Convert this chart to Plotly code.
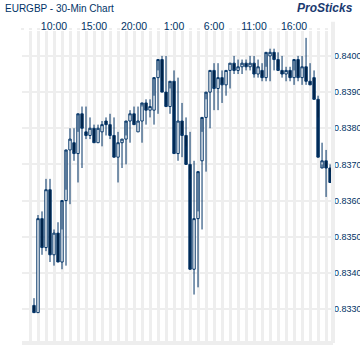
import pandas as pd
import plotly.graph_objects as go

# 30-minute bars, first bar 07:30
times = pd.date_range("2011-05-09 07:30", periods=75, freq="30min")

opens = [0.8331, 0.8329, 0.8355, 0.8347, 0.8363, 0.8345, 0.8351, 0.8343, 0.8360, 0.8374,
         0.8376, 0.8373, 0.8384, 0.8379, 0.8378, 0.8380, 0.8376, 0.8379, 0.8382, 0.8381,
         0.8378, 0.8372, 0.8376, 0.8377, 0.8382, 0.8384, 0.8379, 0.8382, 0.8387, 0.8385,
         0.8385, 0.8394, 0.8399, 0.8390, 0.8386, 0.8393, 0.8373, 0.8382, 0.8378, 0.8370,
         0.8341, 0.8355, 0.8371, 0.8383, 0.8390, 0.8396, 0.8391, 0.8394, 0.8392, 0.8396,
         0.8398, 0.8396, 0.8397, 0.8398, 0.8397, 0.8398, 0.8395, 0.8396, 0.8394, 0.8400,
         0.8401, 0.8399, 0.8396, 0.8395, 0.8396, 0.8394, 0.8399, 0.8394, 0.8397, 0.8393,
         0.8394, 0.8388, 0.8369, 0.8371, 0.8369]
highs = [0.8333, 0.8356, 0.8357, 0.8366, 0.8366, 0.8352, 0.8354, 0.8352, 0.8363, 0.8380,
         0.8380, 0.8379, 0.8386, 0.8386, 0.8383, 0.8381, 0.8381, 0.8382, 0.8383, 0.8384,
         0.8383, 0.8379, 0.8377, 0.8378, 0.8385, 0.8386, 0.8386, 0.8386, 0.8388, 0.8388,
         0.8389, 0.8396, 0.8400, 0.8400, 0.8391, 0.8396, 0.8394, 0.8387, 0.8383, 0.8379,
         0.8371, 0.8357, 0.8379, 0.8388, 0.8396, 0.8398, 0.8398, 0.8396, 0.8396, 0.8398,
         0.8400, 0.8399, 0.8399, 0.8399, 0.8400, 0.8400, 0.8399, 0.8398, 0.8397, 0.8402,
         0.8402, 0.8401, 0.8400, 0.8397, 0.8397, 0.8396, 0.8400, 0.8400, 0.8405, 0.8398,
         0.8396, 0.8389, 0.8376, 0.8374, 0.8370]
lows = [0.8329, 0.8329, 0.8345, 0.8346, 0.8343, 0.8342, 0.8343, 0.8341, 0.8342, 0.8359,
        0.8371, 0.8365, 0.8369, 0.8377, 0.8377, 0.8376, 0.8376, 0.8375, 0.8378, 0.8377,
        0.8377, 0.8365, 0.8369, 0.8370, 0.8376, 0.8381, 0.8379, 0.8376, 0.8381, 0.8383,
        0.8381, 0.8384, 0.8393, 0.8388, 0.8384, 0.8385, 0.8371, 0.8372, 0.8375, 0.8366,
        0.8334, 0.8336, 0.8352, 0.8368, 0.8380, 0.8385, 0.8385, 0.8387, 0.8389, 0.8391,
        0.8395, 0.8395, 0.8395, 0.8396, 0.8396, 0.8394, 0.8394, 0.8393, 0.8393, 0.8393,
        0.8396, 0.8397, 0.8394, 0.8393, 0.8393, 0.8392, 0.8393, 0.8392, 0.8392, 0.8392,
        0.8388, 0.8383, 0.8370, 0.8361, 0.8368]
closes = [0.8329, 0.8355, 0.8347, 0.8363, 0.8345, 0.8351, 0.8343, 0.8360, 0.8374, 0.8377,
          0.8373, 0.8384, 0.8380, 0.8378, 0.8380, 0.8376, 0.8380, 0.8381, 0.8381, 0.8378,
          0.8372, 0.8376, 0.8377, 0.8382, 0.8384, 0.8381, 0.8382, 0.8387, 0.8385, 0.8386,
          0.8394, 0.8399, 0.8390, 0.8386, 0.8393, 0.8373, 0.8382, 0.8378, 0.8370, 0.8341,
          0.8355, 0.8368, 0.8383, 0.8390, 0.8396, 0.8391, 0.8394, 0.8392, 0.8396, 0.8398,
          0.8396, 0.8397, 0.8398, 0.8397, 0.8398, 0.8395, 0.8397, 0.8394, 0.8401, 0.8401,
          0.8399, 0.8396, 0.8395, 0.8396, 0.8394, 0.8399, 0.8394, 0.8397, 0.8393, 0.8392,
          0.8388, 0.8372, 0.8371, 0.8369, 0.8365]

tick_times = ["2011-05-09 10:00", "2011-05-09 15:00", "2011-05-09 20:00", "2011-05-10 01:00",
              "2011-05-10 06:00", "2011-05-10 11:00", "2011-05-10 16:00"]
tick_labels = ["10:00", "15:00", "20:00", "1:00", "6:00", "11:00", "16:00"]
price_ticks = [0.8330, 0.8340, 0.8350, 0.8360, 0.8370, 0.8380, 0.8390, 0.8400]

NAVY = "#003366"
GRID = "#eeeeee"

fig = go.Figure(go.Candlestick(
    x=times, open=opens, high=highs, low=lows, close=closes,
    increasing=dict(line=dict(color=NAVY, width=1), fillcolor="white"),
    decreasing=dict(line=dict(color=NAVY, width=1), fillcolor="#001f40"),
    whiskerwidth=0, showlegend=False, hoverinfo="skip",
))

fig.update_layout(
    width=360, height=360,
    margin=dict(l=22, r=27, t=31, b=17, autoexpand=False),
    boxgap=0.15,
    paper_bgcolor="white", plot_bgcolor="white",
    font=dict(family="Liberation Sans, Arial, sans-serif", color=NAVY),
    title=dict(text="EURGBP - 30-Min Chart", xref="container", yref="container",
               x=5 / 360, y=1 - 8 / 360, xanchor="left", yanchor="middle",
               font=dict(size=10, color=NAVY)),
    xaxis=dict(
        type="date", side="top", automargin=False,
        range=["2011-05-09 06:00", "2011-05-10 20:52"],
        rangeslider=dict(visible=False),
        tickvals=tick_times, ticktext=tick_labels,
        tickfont=dict(size=10.5, color=NAVY), ticklabelstandoff=-6,
        ticks="outside", ticklen=2, tickwidth=3, tickcolor=GRID,
        showgrid=True, gridcolor=GRID, gridwidth=3,
        minor=dict(dtick=3600000, tick0="2011-05-09 06:00", showgrid=True,
                   gridcolor=GRID, gridwidth=3, ticks="outside", ticklen=2,
                   tickwidth=3, tickcolor=GRID),
        showline=False, zeroline=False, fixedrange=True,
    ),
    yaxis=dict(
        side="right", automargin=False, range=[0.83206, 0.84069],
        tickvals=price_ticks, tickformat=".4f",
        tickfont=dict(size=9, color=NAVY), ticklabelstandoff=0,
        showgrid=True, gridcolor=GRID, gridwidth=2,
        ticks="", zeroline=False, showline=False, fixedrange=True,
    ),
    shapes=[
        dict(type="line", xref="paper", yref="paper", x0=0, x1=1, y0=0, y1=0,
             line=dict(color=GRID, width=4)),
        dict(type="line", xref="paper", yref="paper", x0=1, x1=1, y0=0, y1=1.03,
             line=dict(color=GRID, width=4)),
    ],
    annotations=[
        dict(text="<b><i>ProSticks</i></b>", xref="paper", yref="paper",
             x=(355 - 22) / 311, y=1 + 23 / 312, xanchor="right", yanchor="middle",
             showarrow=False, font=dict(size=12, color="#1a3a70")),
    ],
)

fig.write_html("out.html", config={"displayModeBar": False},
               post_script="document.body.style.margin='0px';")
